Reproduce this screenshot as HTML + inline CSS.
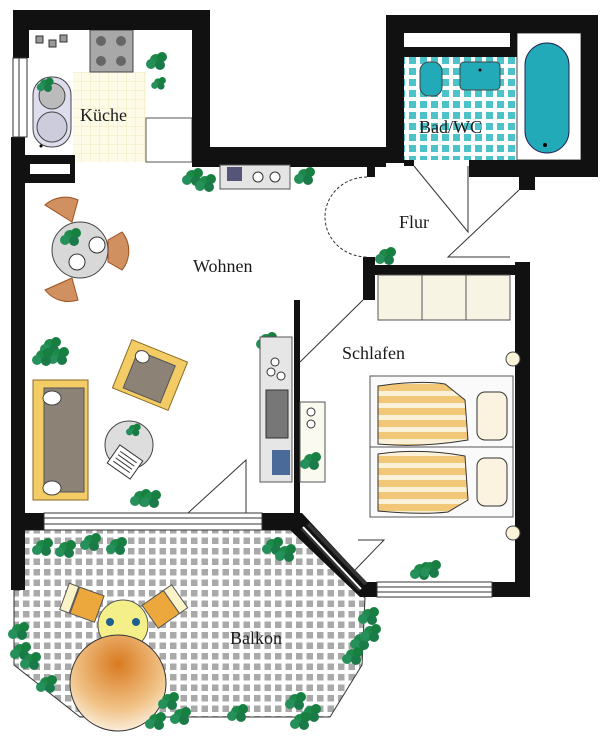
<!DOCTYPE html>
<html><head><meta charset="utf-8"><style>
html,body{margin:0;padding:0;background:#fff;}
svg{display:block;}
text{font-family:"Liberation Serif",serif;fill:#1a1a1a;}
</style></head><body>
<svg width="600" height="751" viewBox="0 0 600 751" xmlns="http://www.w3.org/2000/svg">
<defs>
<pattern id="grid" width="10.5" height="10.5" patternUnits="userSpaceOnUse">
<rect width="10.5" height="10.5" fill="#fff"/><rect x="2" y="2" width="6.5" height="6.5" fill="#a9a9a9"/></pattern>
<pattern id="teal" width="11" height="11" patternUnits="userSpaceOnUse">
<rect width="11" height="11" fill="#fff"/><rect x="2" y="2" width="7" height="7" fill="#4cc3c8"/></pattern>
<pattern id="ytile" width="9" height="9" patternUnits="userSpaceOnUse">
<rect width="9" height="9" fill="#fdfbe8"/><path d="M0 0H9M0 0V9" stroke="#efe9b8" stroke-width="1"/></pattern>
<pattern id="stripe" width="20" height="12" patternUnits="userSpaceOnUse">
<rect width="20" height="12" fill="#f2c777"/><rect y="7" width="20" height="5" fill="#fbf1d8"/></pattern>
<radialGradient id="tbl" cx="0.5" cy="0.3" r="0.8"><stop offset="0" stop-color="#d97a20"/><stop offset="0.6" stop-color="#f1c489"/><stop offset="1" stop-color="#ffffff"/></radialGradient>
<g id="pl"><circle cx="0" cy="0" r="6" fill="#1e8a4a"/><circle cx="6" cy="-3" r="5" fill="#178040"/><circle cx="-5" cy="4" r="5" fill="#26905a"/><circle cx="4" cy="5" r="5" fill="#1a7a48"/></g>
</defs>

<!-- balcony floor -->
<polygon points="20,530 292,530 365,598 362,665 330,717 80,717 14,665 14,590 20,590" fill="url(#grid)" stroke="#333" stroke-width="1"/>

<!-- kitchen floor -->
<rect x="73" y="72" width="73" height="90" fill="url(#ytile)"/>
<rect x="146" y="118" width="46" height="44" fill="#fff" stroke="#555" stroke-width="1"/>
<rect x="29" y="30" width="163" height="42" fill="#fff"/>
<rect x="90" y="30" width="43" height="42" fill="#a8a8a8" stroke="#444"/>
<circle cx="101" cy="41" r="5" fill="#666"/><circle cx="121" cy="41" r="5" fill="#666"/><circle cx="101" cy="61" r="5" fill="#666"/><circle cx="121" cy="61" r="5" fill="#666"/>
<rect x="36" y="36" width="7" height="7" fill="#999" stroke="#333"/><rect x="49" y="40" width="7" height="7" fill="#999" stroke="#333"/><rect x="60" y="35" width="7" height="7" fill="#999" stroke="#333"/>
<rect x="33" y="77" width="38" height="70" rx="18" fill="#dde" stroke="#444"/>
<circle cx="52" cy="96" r="13" fill="#bbb" stroke="#444"/><circle cx="52" cy="127" r="15" fill="#ccd" stroke="#444"/><circle cx="41" cy="146" r="1.5" fill="#000"/>
<use href="#pl" x="45" y="85" transform="scale(0.8) translate(11,20)"/>
<use href="#pl" x="156" y="60"/><use href="#pl" x="158" y="82" transform="scale(0.7) translate(68,36)"/>

<!-- bathroom -->
<rect x="404" y="57" width="113" height="103" fill="url(#teal)"/>
<rect x="517" y="33" width="64" height="127" fill="#fff" stroke="#444"/>
<rect x="525" y="43" width="44" height="110" rx="22" fill="#22aab8" stroke="#225"/>
<circle cx="545" cy="145" r="2" fill="#000"/>
<rect x="420" y="62" width="22" height="34" rx="9" fill="#22aab8" stroke="#444"/>
<rect x="460" y="62" width="40" height="28" rx="4" fill="#22aab8" stroke="#444"/>
<circle cx="480" cy="70" r="1.5" fill="#000"/>

<!-- walls -->
<g fill="#111">
<rect x="13" y="10" width="197" height="20"/>
<rect x="13" y="10" width="16" height="48"/>
<rect x="11" y="137" width="14" height="453"/>
<rect x="192" y="10" width="18" height="157"/>
<rect x="210" y="147" width="176" height="20"/>
<rect x="386" y="15" width="212" height="18"/>
<rect x="386" y="15" width="18" height="148"/>
<rect x="581" y="15" width="17" height="162"/>
<rect x="404" y="47" width="113" height="10"/>
<rect x="510" y="33" width="7" height="24"/>
<rect x="469" y="160" width="129" height="17"/>
<rect x="519" y="160" width="16" height="30"/>
<rect x="404" y="160" width="10" height="6"/>
<rect x="367" y="162" width="8" height="15"/>
<rect x="25" y="155" width="50" height="28"/>
<rect x="363" y="257" width="12" height="43"/>
<rect x="363" y="265" width="167" height="10"/>
<rect x="515" y="262" width="15" height="335"/>
<rect x="294" y="300" width="6" height="213"/>
<rect x="21" y="513" width="23" height="17"/>
<rect x="262" y="513" width="38" height="17"/>
<polygon points="292,513 302,513 366,582 377,582 377,597 360,597 290,530"/>
<rect x="492" y="582" width="38" height="15"/>
</g>
<rect x="30" y="164" width="40" height="10" fill="#fff"/>
<!-- windows -->
<g fill="#fff" stroke="#333" stroke-width="1">
<rect x="13" y="58" width="14" height="79"/>
<rect x="44" y="513" width="218" height="17"/>
<rect x="377" y="582" width="115" height="15"/>
</g>
<path d="M19 58V137M44 518H262M44 524H262M377 587H492M377 592H492" stroke="#333"/>
<path d="M302 528L360 590M308 524L366 584" stroke="#333" stroke-width="4" fill="none"/>
<path d="M303 527L361 589" stroke="#fff" stroke-width="2"/>

<!-- doors -->
<path d="M367 177 A42 40 0 0 0 367 257" stroke="#333" stroke-dasharray="3,2" fill="none"/>
<path d="M414 166 L468 232 L468 166" stroke="#333" fill="none"/>
<path d="M519 190 L448 257 L510 257" stroke="#333" fill="none"/>
<path d="M300 362 L363 300" stroke="#333" fill="none"/>
<path d="M188 513 L246 460 L246 513" stroke="#333" fill="none"/>
<path d="M358 540 L384 540 L355 570" stroke="#333" fill="none"/>

<!-- kitchen counter in hall -->
<rect x="220" y="165" width="70" height="24" fill="#e4e4e4" stroke="#555"/>
<rect x="227" y="167" width="15" height="14" fill="#557"/><circle cx="258" cy="177" r="5" fill="#fff" stroke="#333"/><circle cx="275" cy="177" r="5" fill="#fff" stroke="#333"/>
<use href="#pl" x="192" y="176"/><use href="#pl" x="205" y="182"/><use href="#pl" x="304" y="175"/>

<!-- dining table -->
<path d="M45 205 A30 30 0 0 1 78 200 L72 222 Z" fill="#d09060" stroke="#a05020"/>
<path d="M122 232 A30 30 0 0 1 122 270 L108 262 L108 240Z" fill="#d09060" stroke="#a05020"/>
<path d="M45 290 A30 30 0 0 0 78 300 L72 278 Z" fill="#d09060" stroke="#a05020"/>
<circle cx="80" cy="250" r="28" fill="#d8d8d8" stroke="#444"/>
<use href="#pl" x="70" y="236" transform="translate(0,0)"/>
<circle cx="97" cy="245" r="8" fill="#fff" stroke="#333"/><circle cx="77" cy="262" r="8" fill="#fff" stroke="#333"/>

<!-- plants living -->
<use href="#pl" x="50" y="345"/><use href="#pl" x="58" y="355"/><use href="#pl" x="42" y="356"/>
<use href="#pl" x="266" y="340"/><use href="#pl" x="140" y="497"/><use href="#pl" x="150" y="498"/><use href="#pl" x="385" y="255"/>

<!-- sofa -->
<rect x="33" y="380" width="55" height="120" fill="#f4cc66" stroke="#8a6a20"/>
<rect x="44" y="388" width="40" height="104" fill="#8c8275" stroke="#555"/>
<ellipse cx="52" cy="398" rx="9" ry="7" fill="#fff" stroke="#444"/><ellipse cx="52" cy="488" rx="9" ry="7" fill="#fff" stroke="#444"/>
<!-- armchair -->
<g transform="translate(150,375) rotate(22)">
<rect x="-30" y="-26" width="60" height="52" fill="#f4cc66" stroke="#8a6a20"/>
<rect x="-20" y="-18" width="40" height="40" fill="#8c8275" stroke="#555"/>
<ellipse cx="-14" cy="-14" rx="7" ry="6" fill="#fff" stroke="#444"/>
</g>
<!-- coffee table -->
<circle cx="129" cy="445" r="24" fill="#ddd" stroke="#444"/>
<use href="#pl" x="133" y="428" transform="scale(0.7) translate(57,185)"/>
<g transform="translate(125,462) rotate(35)"><rect x="-14" y="-11" width="28" height="22" fill="#fff" stroke="#333"/><path d="M-10 -6H10M-10 -2H10M-10 2H10M-10 6H10" stroke="#333"/></g>

<!-- kitchen unit in living -->
<rect x="260" y="337" width="32" height="145" fill="#e6e6e6" stroke="#555"/>
<circle cx="275" cy="362" r="4" fill="#fff" stroke="#333"/><circle cx="271" cy="372" r="4" fill="#fff" stroke="#333"/><circle cx="281" cy="376" r="4" fill="#fff" stroke="#333"/>
<rect x="266" y="390" width="22" height="48" fill="#777" stroke="#333"/>
<rect x="272" y="450" width="18" height="25" fill="#4a6a9a"/>
<rect x="300" y="402" width="25" height="80" fill="#fbfaf0" stroke="#555"/>
<circle cx="311" cy="412" r="4" fill="#fff" stroke="#333"/><circle cx="311" cy="424" r="4" fill="#fff" stroke="#333"/>
<use href="#pl" x="310" y="460"/>

<!-- bedroom -->
<rect x="378" y="275" width="132" height="45" fill="#f8f4e4" stroke="#555"/>
<path d="M422 275V320M466 275V320" stroke="#555"/>
<rect x="370" y="376" width="143" height="141" fill="#fafafa" stroke="#555"/>
<path d="M370 447H513" stroke="#555"/>
<path d="M378 386 Q420 380 445 384 L465 400 L468 440 Q420 448 378 444Z" fill="url(#stripe)" stroke="#333"/>
<path d="M378 454 Q420 448 465 456 L468 500 L448 512 Q420 515 378 511Z" fill="url(#stripe)" stroke="#333"/>
<rect x="477" y="392" width="30" height="48" rx="8" fill="#fbf3e0" stroke="#333"/>
<rect x="477" y="458" width="30" height="48" rx="8" fill="#fbf3e0" stroke="#333"/>
<circle cx="513" cy="359" r="7" fill="#fbf3d8" stroke="#444"/><circle cx="513" cy="533" r="7" fill="#fbf3d8" stroke="#444"/>
<use href="#pl" x="420" y="570"/><use href="#pl" x="430" y="568"/>

<!-- balcony furniture -->
<g transform="translate(88,605) rotate(20)"><rect x="-25" y="-14" width="10" height="28" fill="#fcf3c8" stroke="#555"/><rect x="-14" y="-14" width="26" height="28" fill="#eca83c" stroke="#555"/></g>
<g transform="translate(160,610) rotate(-35)"><rect x="-12" y="-14" width="26" height="28" fill="#eca83c" stroke="#555"/><rect x="14" y="-14" width="10" height="28" fill="#fcf3c8" stroke="#555"/></g>
<circle cx="123" cy="625" r="25" fill="#f5ef8a" stroke="#555"/>
<circle cx="110" cy="622" r="4" fill="#1d5f8f"/><circle cx="136" cy="622" r="4" fill="#1d5f8f"/>
<circle cx="118" cy="683" r="48" fill="url(#tbl)" stroke="#333"/>
<g>
<use href="#pl" x="42" y="546"/><use href="#pl" x="65" y="548"/><use href="#pl" x="90" y="541"/><use href="#pl" x="116" y="545"/>
<use href="#pl" x="272" y="545"/><use href="#pl" x="285" y="552"/>
<use href="#pl" x="18" y="630"/><use href="#pl" x="20" y="650"/><use href="#pl" x="30" y="660"/><use href="#pl" x="46" y="683"/>
<use href="#pl" x="168" y="700"/><use href="#pl" x="180" y="715"/><use href="#pl" x="155" y="720"/><use href="#pl" x="237" y="712"/>
<use href="#pl" x="295" y="700"/><use href="#pl" x="310" y="712"/><use href="#pl" x="300" y="720"/>
<use href="#pl" x="368" y="615"/><use href="#pl" x="360" y="640"/><use href="#pl" x="352" y="655"/><use href="#pl" x="370" y="632"/>
</g>

<!-- labels -->
<text x="80" y="121" font-size="18">Küche</text>
<text x="419" y="133" font-size="18">Bad/WC</text>
<text x="399" y="228" font-size="18">Flur</text>
<text x="193" y="272" font-size="18">Wohnen</text>
<text x="342" y="359" font-size="18">Schlafen</text>
<text x="230" y="644" font-size="18">Balkon</text>
</svg>
</body></html>
